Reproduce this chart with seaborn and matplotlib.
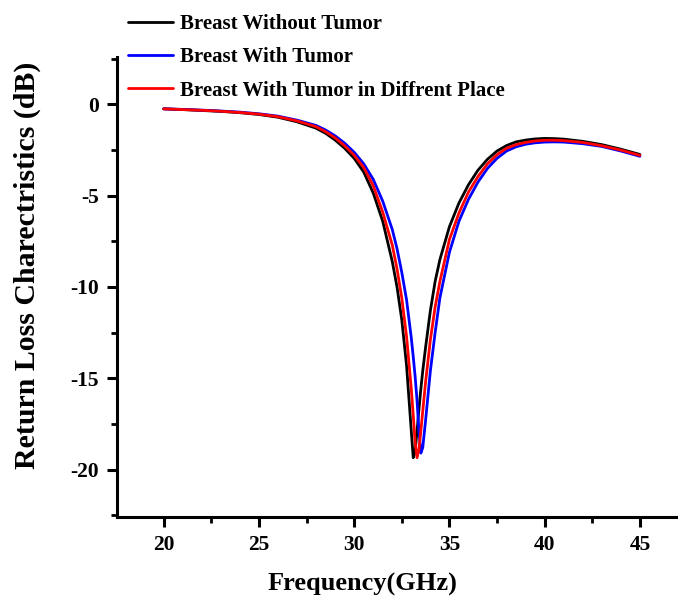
import numpy as np
import pandas as pd
import matplotlib
matplotlib.use("Agg")
import matplotlib.pyplot as plt
import seaborn as sns
from matplotlib.ticker import MultipleLocator

# ── Data ─────────────────────────────────────────────────────────────────────
freq = [20, 21, 22, 23, 24, 25, 26, 27, 28, 28.5, 29, 29.5, 30, 30.5, 31, 31.5,
        32, 32.25, 32.5, 32.75, 33, 33.1, 33.2, 33.3, 33.4, 33.5, 33.6, 33.75,
        34, 34.25, 34.5, 35, 35.5, 36, 36.5, 37, 37.5, 38, 38.5, 39, 39.5, 40,
        40.5, 41, 42, 43, 44, 45]

no_tumor = [-0.24, -0.28, -0.33, -0.38, -0.45, -0.55, -0.70, -0.95, -1.30, -1.58,
            -1.95, -2.40, -2.95, -3.70, -4.85, -6.40, -8.60, -10.0, -11.8, -14.3,
            -17.9, -19.35, -19.0, -17.9, -16.7, -15.6, -14.6, -13.3, -11.3, -9.7,
            -8.5, -6.7, -5.4, -4.4, -3.6, -3.0, -2.55, -2.25, -2.05, -1.95, -1.89,
            -1.86, -1.87, -1.90, -2.02, -2.20, -2.45, -2.74]

with_tumor = [-0.24, -0.27, -0.31, -0.36, -0.42, -0.51, -0.64, -0.86, -1.15, -1.40,
              -1.72, -2.12, -2.62, -3.25, -4.10, -5.30, -6.85, -7.90, -9.20, -10.7,
              -12.8, -13.8, -14.9, -16.2, -17.9, -19.1, -18.8, -17.3, -14.6, -12.5,
              -10.6, -8.1, -6.4, -5.2, -4.25, -3.5, -2.95, -2.55, -2.32, -2.18, -2.10,
              -2.06, -2.05, -2.06, -2.15, -2.30, -2.55, -2.84]

tumor_other = [-0.24, -0.28, -0.32, -0.37, -0.44, -0.53, -0.67, -0.90, -1.22, -1.49,
               -1.83, -2.26, -2.78, -3.45, -4.45, -5.90, -7.70, -9.00, -10.6, -12.7,
               -15.6, -17.0, -18.5, -19.35, -18.9, -17.9, -16.8, -15.2, -12.9, -11.1,
               -9.7, -7.4, -5.95, -4.8, -3.95, -3.25, -2.75, -2.40, -2.20, -2.08, -2.00,
               -1.96, -1.96, -1.98, -2.08, -2.26, -2.50, -2.79]

series = {
    "Breast Without Tumor": (no_tumor, "#000000"),
    "Breast With Tumor": (with_tumor, "#0000ff"),
    "Breast With Tumor in Diffrent Place": (tumor_other, "#ff0000"),
}

# ── Style ────────────────────────────────────────────────────────────────────
sns.set_style("ticks")
plt.rcParams["font.family"] = ["Liberation Serif", "DejaVu Serif"]
plt.rcParams["font.weight"] = "bold"
plt.rcParams["axes.unicode_minus"] = False
for key in ["text.color", "axes.labelcolor", "xtick.color", "ytick.color",
            "axes.edgecolor"]:
    plt.rcParams[key] = "black"

fig = plt.figure(figsize=(6.78, 6.06), dpi=100)
ax = fig.add_axes([117 / 678, 1 - 517 / 606, 1 - 117 / 678, (517 - 57) / 606])

for name, (vals, color) in series.items():
    df = pd.DataFrame({"freq": freq, "s11": vals})
    sns.lineplot(data=df, x="freq", y="s11", color=color, lw=2, label=name, ax=ax)

ax.set_xlim(17.55, 47)
ax.set_ylim(-22.6, 2.6)
ax.xaxis.set_major_locator(MultipleLocator(5))
ax.xaxis.set_minor_locator(MultipleLocator(2.5))
ax.yaxis.set_major_locator(MultipleLocator(5))
ax.yaxis.set_minor_locator(MultipleLocator(2.5))

sns.despine(ax=ax)
for s in ["left", "bottom"]:
    ax.spines[s].set_linewidth(2.2)
    ax.spines[s].set_color("black")
ax.tick_params(which="major", direction="out", length=7, width=2.2,
               labelsize=15.5, pad=6, color="black", labelcolor="black")
ax.tick_params(which="minor", direction="out", length=4, width=2.0, color="black")
for lab in ax.get_xticklabels() + ax.get_yticklabels():
    lab.set_fontweight("bold")

ax.set_xlabel("Frequency(GHz)", fontsize=19, fontweight="bold", color="black")
ax.set_ylabel("Return Loss Charectristics (dB)", fontsize=21.5, fontweight="bold",
              color="black")
ax.xaxis.set_label_coords(0.437, -0.122)
ax.yaxis.set_label_coords(-0.136, 0.548)

leg = ax.legend(loc="upper left", bbox_to_anchor=(128 / 678, 1 - 14 / 606),
                bbox_transform=fig.transFigure, frameon=False,
                handlelength=2.16, handletextpad=0.34, labelspacing=0.64,
                borderpad=0, borderaxespad=0, prop={"weight": "bold", "size": 15})
for t in leg.get_texts():
    t.set_color("black")

fig.savefig("out.png", dpi=100)
